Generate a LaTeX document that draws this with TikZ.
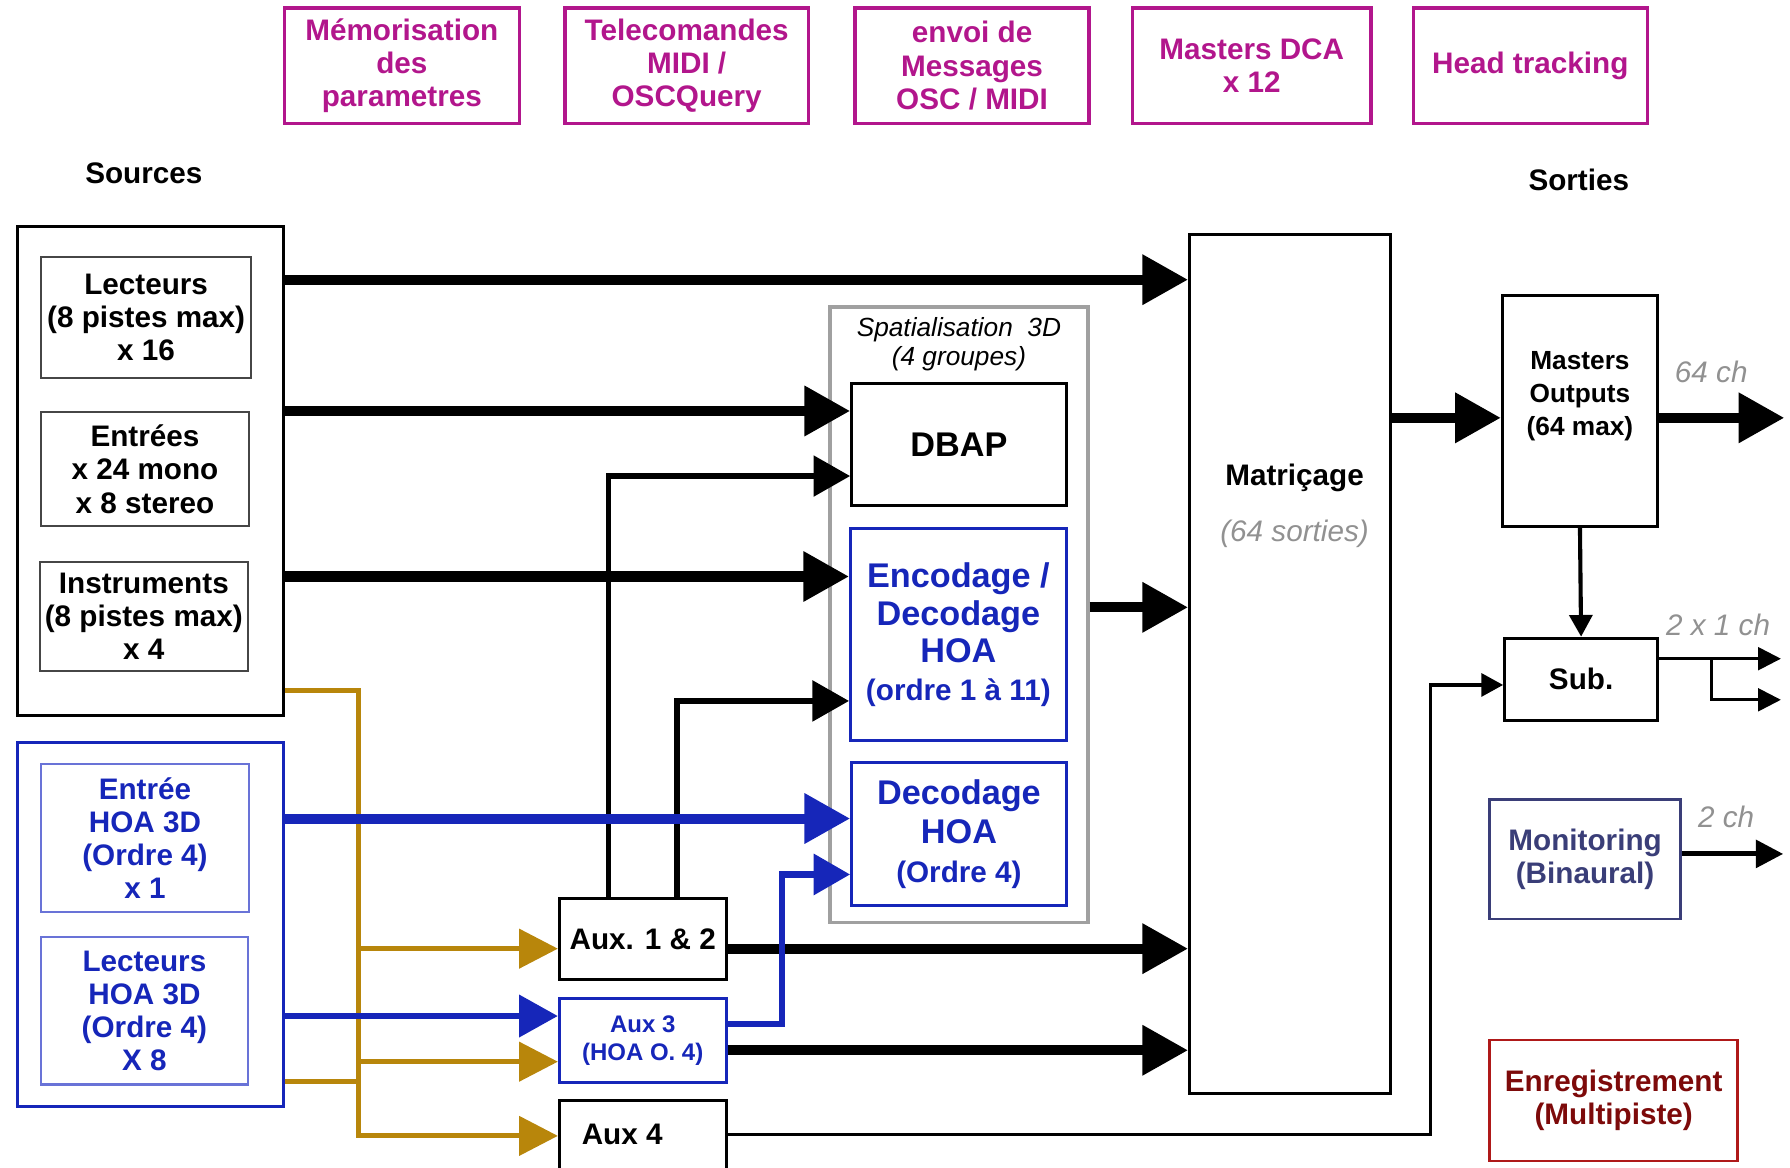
\documentclass[tikz,border=0pt]{standalone}
\usepackage{fontspec}
\setmainfont{Liberation Sans}
\usetikzlibrary{arrows.meta}

\definecolor{ctrlmag}{RGB}{178,22,140}
\definecolor{hoablue}{RGB}{22,38,185}
\definecolor{hoalight}{RGB}{105,115,215}
\definecolor{auxgold}{RGB}{184,134,11}
\definecolor{grpgray}{RGB}{160,160,160}
\definecolor{notegray}{RGB}{145,145,145}
\definecolor{srcgray}{RGB}{70,70,70}
\definecolor{monslate}{RGB}{58,62,120}
\definecolor{recred}{RGB}{175,25,25}
\definecolor{rectext}{RGB}{125,10,10}

\tikzset{
  txt/.style={font=\fontsize{13}{14.5}\selectfont\bfseries, align=center},
  notetxt/.style={font=\fontsize{13}{14.5}\selectfont\itshape, text=notegray, align=center},
  blockbox/.style={txt, draw, line width=1.3pt, inner sep=0pt},
  ctrlbox/.style={blockbox, draw=ctrlmag, text=ctrlmag, line width=1.4pt, minimum height=50.5pt},
  srcbox/.style={txt, draw=srcgray, line width=0.9pt, inner sep=0pt},
  hoainbox/.style={srcbox, draw=hoalight, text=hoablue},
  bigflow/.style={line width=4.4pt, -{Triangle[length=20pt,width=21pt]}},
  midflow/.style={line width=2.4pt, -{Triangle[length=16pt,width=17.5pt]}},
  thinflow/.style={line width=1.5pt, -{Triangle[length=9.5pt,width=10pt]}},
  subflow/.style={line width=1.2pt, -{Triangle[length=10pt,width=10pt]}},
  monflow/.style={line width=2.2pt, -{Triangle[length=12pt,width=12pt]}},
  goldflow/.style={auxgold, line width=2.2pt, -{Triangle[length=17pt,width=17pt]}}
}

\begin{document}
\begin{tikzpicture}[x=0.5pt,y=-0.5pt]
\useasboundingbox (0,0) rectangle (1568,1023);

% controles
\node[ctrlbox, minimum width=103pt] (mem) at (352,57.5) {Mémorisation\\des\\parametres};
\node[ctrlbox, minimum width=106.5pt] (tele) at (601.5,57.5) {Telecomandes\\MIDI /\\OSCQuery};
\node[ctrlbox, minimum width=102.5pt] (oscmsg) at (851.5,57.5) {envoi de\\Messages\\OSC / MIDI};
\node[ctrlbox, minimum width=104.5pt] (dca) at (1096.5,57.5) {Masters DCA\\x 12};
\node[ctrlbox, minimum width=102.5pt] (head) at (1340.5,57.5) {Head tracking};

\node[txt] (srclbl) at (126,152) {Sources};
\node[txt] (outlbl) at (1383,158) {Sorties};

% sources
\node[blockbox, minimum width=116.5pt, minimum height=214.5pt] (src) at (131.5,412.5) {};
\node[srcbox, minimum width=92pt, minimum height=53pt] (lect) at (128,278) {Lecteurs\\(8 pistes max)\\x 16};
\node[srcbox, minimum width=91pt, minimum height=50pt] (entr) at (127,411) {Entrées\\x 24 mono\\x 8 stereo};
\node[srcbox, minimum width=91pt, minimum height=48pt] (instr) at (126,540) {Instruments\\(8 pistes max)\\x 4};

\node[blockbox, draw=hoablue, minimum width=116.5pt, minimum height=159.5pt] (hoasrc) at (131.5,809.5) {};
\node[hoainbox, minimum width=91pt, minimum height=65pt] (hoain) at (127,734) {Entrée\\HOA 3D\\(Ordre 4)\\x 1};
\node[hoainbox, minimum width=90.5pt, minimum height=64.5pt] (hoalect) at (126.5,885.5) {Lecteurs\\HOA 3D\\(Ordre 4)\\X 8};

% spatialisation
\node[draw=grpgray, line width=1.4pt, inner sep=0pt, minimum width=113pt, minimum height=269.5pt] (spat) at (840,538.5) {};
\node[notetxt, text=black, font=\fontsize{11.5}{12.5}\selectfont\itshape] (spatlbl) at (840,301.5) {Spatialisation~~3D\\(4 groupes)};
\node[blockbox, font=\fontsize{15}{16.5}\selectfont\bfseries, minimum width=94pt, minimum height=53.5pt] (dbap) at (840,389.5) {DBAP};
\node[blockbox, draw=hoablue, text=hoablue, font=\fontsize{15}{16.5}\selectfont\bfseries, minimum width=94.5pt, minimum height=93pt] (enc) at (839.5,556) {Encodage /\\Decodage\\HOA\\{\fontsize{13}{14.5}\selectfont(ordre 1 à 11)}};
\node[blockbox, draw=hoablue, text=hoablue, font=\fontsize{15}{17}\selectfont\bfseries, minimum width=94pt, minimum height=62.5pt] (dec) at (840,730.5) {Decodage\\HOA\\{\fontsize{13}{14.5}\selectfont(Ordre 4)}};

% matricage et sorties
\node[blockbox, minimum width=88pt, minimum height=376.5pt] (mat) at (1130,581.5) {};
\node[txt] (matlbl) at (1134,419) {Matriçage};
\node[notetxt] (matnote) at (1134,468) {(64 sorties)};

\node[blockbox, minimum width=68pt, minimum height=101pt] (mast) at (1384,360) {};
\node[txt, font=\fontsize{11.5}{14.5}\selectfont\bfseries] (mastlbl) at (1384,347) {Masters\\Outputs\\(64 max)};
\node[blockbox, minimum width=67pt, minimum height=36pt] (sub) at (1385,595) {Sub.};
\node[blockbox, draw=monslate, text=monslate, minimum width=83.5pt, minimum height=52.5pt] (mon) at (1388.5,752.5) {Monitoring\\(Binaural)};
\node[blockbox, draw=recred, text=rectext, minimum width=108.5pt, minimum height=53pt] (rec) at (1413.5,964) {Enregistrement\\(Multipiste)};

\node[notetxt] (ch64) at (1499,326) {64 ch};
\node[notetxt] (ch2x1) at (1505,547) {2 x 1 ch};
\node[notetxt] (ch2) at (1512,716) {2 ch};

% aux
\node[blockbox, minimum width=73pt, minimum height=35.5pt] (aux12) at (563,822.5) {Aux. 1 \& 2};
\node[blockbox, draw=hoablue, text=hoablue, font=\fontsize{10.5}{12}\selectfont\bfseries, minimum width=73pt, minimum height=36.5pt] (aux3) at (563,911.5) {Aux 3\\(HOA O. 4)};
\node[blockbox, minimum width=73pt, minimum height=58pt] (aux4) at (563,1022) {};
\node[txt] (aux4lbl) at (545,994) {Aux 4};

% envois aux
\draw[goldflow] (src.east |- 0,605) -| (314,995) -- (aux4.west |- 0,995);
\draw[goldflow] (314,831) -- (aux12.west |- 0,831);
\draw[goldflow] (314,930) -- (aux3.west |- 0,930);
\draw[auxgold, line width=2.2pt] (hoasrc.east |- 0,947) -- (314,947);

% flux principaux
\draw[bigflow] (src.east |- 0,245) -- (mat.west |- 0,245);
\draw[bigflow] (src.east |- 0,360) -- (dbap.west |- 0,360);
\draw[bigflow] (src.east |- 0,505) -- (enc.west |- 0,505);
\draw[midflow] (aux12.north -| 533,0) |- (dbap.west |- 0,417);
\draw[midflow] (aux12.north -| 593,0) |- (enc.west |- 0,614);
\draw[bigflow, hoablue] (hoasrc.east |- 0,717) -- (dec.west |- 0,717);
\draw[hoablue, line width=3pt, -{Triangle[length=17pt,width=18pt]}] (hoasrc.east |- 0,890) -- (aux3.west |- 0,890);
\draw[bigflow] (spat.east |- 0,532) -- (mat.west |- 0,532);
\draw[bigflow] (aux12.east |- 0,831) -- (mat.west |- 0,831);
\draw[bigflow] (aux3.east |- 0,920) -- (mat.west |- 0,920);
\draw[midflow, hoablue, line width=3pt] (aux3.east |- 0,897) -- (685,897) |- (dec.west |- 0,766);
\draw[thinflow] (aux4.east |- 0,994) -- (1253,994) |- (sub.west |- 0,600);
\draw[bigflow] (mat.east |- 0,366) -- (mast.west |- 0,366);

% sorties
\coordinate (mastout) at (1563,366);
\coordinate (subout1) at (1560,577);
\coordinate (subout2) at (1560,613);
\coordinate (monout) at (1562,748);
\draw[bigflow] (mast.east |- mastout) -- (mastout);
\draw[thinflow, line width=1.8pt] (mast.south) -- (sub.north);
\draw[subflow] (sub.east |- subout1) -- (subout1);
\draw[subflow] (1499,577) |- (subout2);
\draw[monflow] (mon.east |- monout) -- (monout);
\end{tikzpicture}
\end{document}
